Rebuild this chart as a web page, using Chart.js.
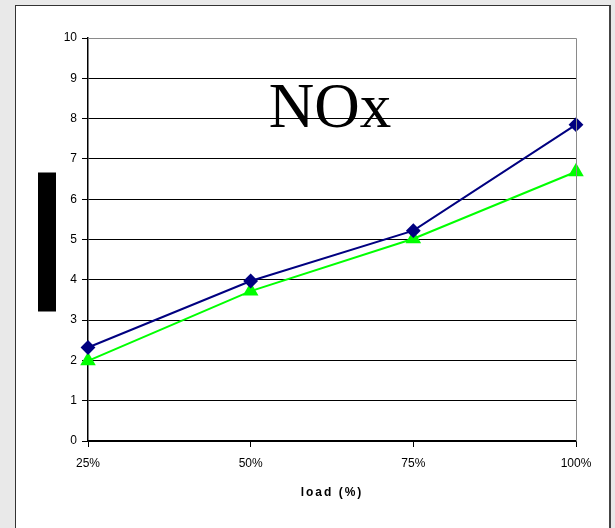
<!DOCTYPE html>
<html>
<head>
<meta charset="utf-8">
<script src="https://cdn.jsdelivr.net/npm/chart.js@4.4.0/dist/chart.umd.min.js"></script>
<style>
    body { margin: 0; background: #e9e9e9; overflow: hidden; }
    #box {
        position: absolute; left: 15px; top: 5px;
        width: 593px; height: 540px;
        background: #fff;
        border: 1px solid #333;
        border-right: 2px solid #444;
    }
    #chart-wrap { position: absolute; left: 0; top: 0; width: 593px; height: 522px; }
</style>
</head>
<body>
<div id="box"><div id="chart-wrap"><canvas id="nox-chart"></canvas></div></div>
<script>
const loadLabels = ["25%", "50%", "75%", "100%"];
const seriesBlue = [2.32, 3.97, 5.22, 7.85];
const seriesGreen = [1.99, 3.72, 5.02, 6.68];
const yTicks = [0, 1, 2, 3, 4, 5, 6, 7, 8, 9, 10];
const chartTitle = "NOx";
const xTitle = "load (%)";

// border on top/right of the plot, the title inside the plot, the x title and the black y-label block
const plotExtras = {
    id: "plotExtras",
    afterDraw(chart) {
        const ctx = chart.ctx;
        const area = chart.chartArea;
        const y = chart.scales.y;
        ctx.save();
        ctx.strokeStyle = "#8a8a8a";
        ctx.lineWidth = 1;
        ctx.beginPath();
        ctx.moveTo(area.left, area.top + 0.5);
        ctx.lineTo(area.right + 0.5, area.top + 0.5);
        ctx.lineTo(area.right + 0.5, area.bottom);
        ctx.stroke();

        ctx.fillStyle = "#000";
        ctx.font = "63px 'Liberation Serif', 'Times New Roman', serif";
        ctx.textAlign = "center";
        ctx.textBaseline = "alphabetic";
        ctx.fillText(chartTitle, (area.left + area.right) / 2 - 2, y.getPixelForValue(7.8));

        ctx.font = "bold 12px 'Liberation Sans', Arial, sans-serif";
        ctx.letterSpacing = "2px";
        ctx.textBaseline = "middle";
        ctx.fillText(xTitle, (area.left + area.right) / 2, area.bottom + 52);
        ctx.letterSpacing = "0px";

        const mid = (area.top + area.bottom) / 2;
        ctx.fillRect(area.left - 50, mid - 67, 18, 139);
        ctx.restore();
    }
};

new Chart(document.getElementById("nox-chart"), {
    type: "line",
    data: {
        labels: loadLabels,
        datasets: [
            {
                data: seriesBlue,
                borderColor: "#000080",
                backgroundColor: "#000080",
                borderWidth: 2,
                pointStyle: "rectRot",
                pointRadius: 6,
                pointHoverRadius: 6,
                tension: 0
            },
            {
                data: seriesGreen,
                borderColor: "#00ff00",
                backgroundColor: "#00ff00",
                borderWidth: 2,
                pointStyle: "triangle",
                pointRadius: 7,
                pointHoverRadius: 7,
                tension: 0
            }
        ]
    },
    options: {
        responsive: true,
        maintainAspectRatio: false,
        animation: false,
        layout: { padding: { left: 0, right: 33, top: 32, bottom: 0 } },
        plugins: { legend: { display: false }, tooltip: { enabled: false } },
        scales: {
            x: {
                offset: false,
                grid: { drawOnChartArea: false, drawTicks: true, tickLength: 6, color: "#000" },
                border: { color: "#000", width: 1.5 },
                ticks: { color: "#000", padding: 9, font: { family: "'Liberation Sans', Arial", size: 12 }, maxRotation: 0 },
                afterFit(scale) { scale.height = 87; }
            },
            y: {
                min: 0,
                max: 10,
                afterBuildTicks(scale) { scale.ticks = yTicks.map(v => ({ value: v })); },
                grid: { color: "#000", lineWidth: 1, tickLength: 6 },
                border: { color: "#000", width: 1.5 },
                ticks: { color: "#000", padding: 5, font: { family: "'Liberation Sans', Arial", size: 12 } },
                afterFit(scale) { scale.width = 72; }
            }
        }
    },
    plugins: [plotExtras]
});
</script>
</body>
</html>
